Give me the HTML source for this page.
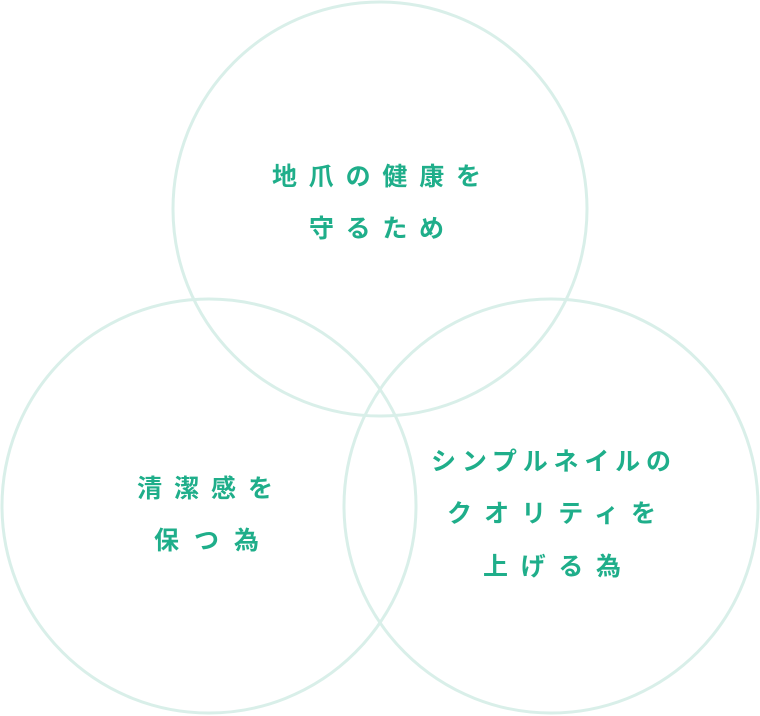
<!DOCTYPE html>
<html><head><meta charset="utf-8"><style>
html,body{margin:0;padding:0;background:#fff;width:760px;height:716px;overflow:hidden}
svg text{font-family:"Liberation Sans","Noto Sans CJK JP",sans-serif;font-size:25px;fill:#1fae8a;font-weight:bold}
</style></head><body>
<svg width="760" height="716" viewBox="0 0 760 716" xmlns="http://www.w3.org/2000/svg">
<g fill="none" stroke="#d9efe9" stroke-width="3">
<circle cx="380" cy="209" r="207"/>
<circle cx="209" cy="506" r="207"/>
<circle cx="551" cy="506" r="207"/>
</g>
<text x="272" y="185" textLength="209" lengthAdjust="spacing">地爪の健康を</text>
<text x="309" y="237" textLength="135" lengthAdjust="spacing">守るため</text>
<text x="137" y="497" textLength="136" lengthAdjust="spacing">清潔感を</text>
<text x="154" y="549" textLength="105" lengthAdjust="spacing">保つ為</text>
<text x="431" y="470" textLength="240" lengthAdjust="spacing">シンプルネイルの</text>
<text x="447" y="522" textLength="209" lengthAdjust="spacing">クオリティを</text>
<text x="483" y="575" textLength="138" lengthAdjust="spacing">上げる為</text>
</svg>
</body></html>
